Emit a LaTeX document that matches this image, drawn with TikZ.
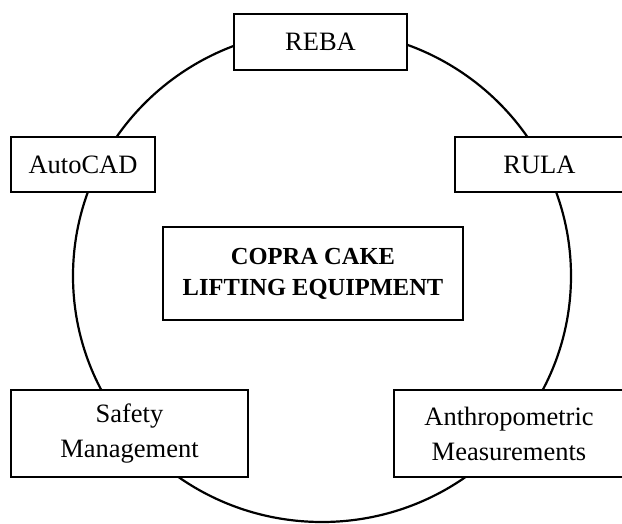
\documentclass[tikz,border=0pt]{standalone}
\usepackage{fontspec}
\setmainfont{Liberation Serif}
\begin{document}
\begin{tikzpicture}[x=1pt,y=-1pt,
  boxstyle/.style={draw=black, line width=1.6pt, fill=white, inner sep=0pt, align=center,
    font=\fontsize{26.5}{35}\selectfont},
  corestyle/.style={boxstyle, font=\fontsize{24.5}{31}\selectfont\bfseries},
  ringstyle/.style={draw=black, line width=2.2pt}]
\useasboundingbox (0,0) rectangle (622,524);
\clip (0,0) rectangle (622,524);
\draw[ringstyle] (322,276) ellipse [x radius=249, y radius=246];
\node[boxstyle, minimum width=173pt, minimum height=56pt] (reba) at (320.5,42) {REBA};
\node[boxstyle, minimum width=144pt, minimum height=55pt] (autocad) at (83,164.5) {AutoCAD};
\node[boxstyle, minimum width=169pt, minimum height=55pt] (rula) at (539.5,164.5) {RULA};
\node[corestyle, minimum width=300pt, minimum height=93pt] (core) at (313,273.5) {COPRA CAKE\\LIFTING EQUIPMENT};
\node[boxstyle, minimum width=237pt, minimum height=87pt] (safety) at (129.5,433.5) {Safety\\Management};
\node[boxstyle, minimum width=230pt, minimum height=87pt] (anthro) at (509,433.5) {Anthropometric\\Measurements};
\end{tikzpicture}
\end{document}
